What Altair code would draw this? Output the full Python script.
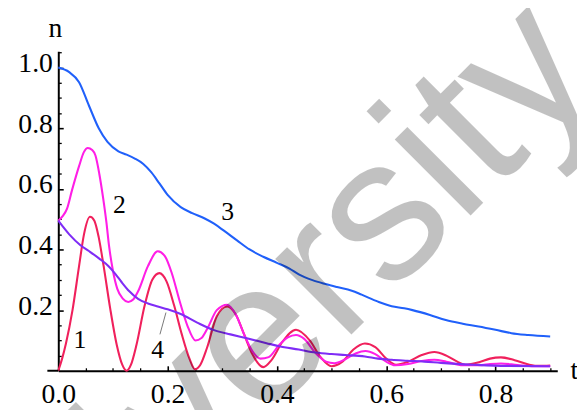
import altair as alt
import pandas as pd

# ---- data ----
T1 = [0, 0.007, 0.014, 0.026, 0.038, 0.047, 0.058, 0.066, 0.074, 0.083, 0.095, 0.107, 0.117, 0.125,
      0.133, 0.143, 0.158, 0.172, 0.185, 0.198, 0.212, 0.226, 0.24, 0.25, 0.26, 0.272, 0.29, 0.309,
      0.325, 0.34, 0.355, 0.375, 0.39, 0.41, 0.435, 0.46, 0.48, 0.5, 0.52, 0.54, 0.561, 0.58, 0.6,
      0.618, 0.64, 0.665, 0.688, 0.71, 0.73, 0.745, 0.77, 0.79, 0.81, 0.835, 0.862, 0.88, 0.9]
N1 = [0, 0.04, 0.09, 0.2, 0.345, 0.45, 0.508, 0.495, 0.44, 0.345, 0.205, 0.085, 0.02, 0.0,
      0.02, 0.085, 0.215, 0.3, 0.322, 0.295, 0.215, 0.12, 0.04, 0.005, 0.02, 0.075, 0.18, 0.212,
      0.185, 0.12, 0.055, 0.012, 0.035, 0.095, 0.135, 0.1, 0.045, 0.015, 0.03, 0.07, 0.09, 0.078, 0.04,
      0.02, 0.03, 0.052, 0.062, 0.05, 0.03, 0.02, 0.028, 0.04, 0.044, 0.035, 0.02, 0.016, 0.017]

T2 = [0, 0.008, 0.016, 0.025, 0.038, 0.047, 0.054, 0.062, 0.068, 0.075, 0.082, 0.088, 0.093, 0.1,
      0.108, 0.118, 0.128, 0.137, 0.146, 0.164, 0.182, 0.195, 0.208, 0.222, 0.236, 0.251, 0.262,
      0.273, 0.29, 0.309, 0.325, 0.34, 0.355, 0.37, 0.385, 0.404, 0.42, 0.435, 0.45, 0.47, 0.49,
      0.505, 0.525, 0.545, 0.562, 0.58, 0.6, 0.616, 0.64, 0.665, 0.688, 0.71, 0.74, 0.77, 0.79,
      0.81, 0.84, 0.87, 0.9]
N2 = [0.495, 0.51, 0.535, 0.595, 0.675, 0.722, 0.735, 0.728, 0.71, 0.65, 0.57, 0.49, 0.41, 0.33,
      0.27, 0.238, 0.227, 0.235, 0.262, 0.345, 0.394, 0.378, 0.32, 0.23, 0.15, 0.1, 0.108,
      0.14, 0.2, 0.218, 0.185, 0.12, 0.065, 0.04, 0.045, 0.085, 0.11, 0.118, 0.105, 0.06, 0.03,
      0.025, 0.038, 0.058, 0.065, 0.055, 0.03, 0.018, 0.022, 0.032, 0.036, 0.03, 0.018, 0.018, 0.022,
      0.024, 0.019, 0.015, 0.015]

T3 = [0, 0.02, 0.038, 0.056, 0.074, 0.09, 0.11, 0.125, 0.14, 0.155, 0.17, 0.185, 0.2, 0.224, 0.245,
      0.267, 0.285, 0.303, 0.327, 0.35, 0.375, 0.4, 0.423, 0.44, 0.465, 0.489, 0.51, 0.537, 0.555,
      0.585, 0.61, 0.633, 0.648, 0.68, 0.709, 0.74, 0.769, 0.8, 0.829, 0.86, 0.9]
N3 = [1.0, 0.985, 0.952, 0.875, 0.80, 0.755, 0.724, 0.713, 0.70, 0.683, 0.655, 0.618, 0.58, 0.54, 0.52,
      0.503, 0.485, 0.462, 0.43, 0.40, 0.376, 0.356, 0.337, 0.318, 0.299, 0.286, 0.276, 0.264, 0.251,
      0.228, 0.213, 0.206, 0.20, 0.184, 0.167, 0.155, 0.146, 0.135, 0.124, 0.118, 0.113]

T4 = [0, 0.02, 0.04, 0.056, 0.075, 0.092, 0.105, 0.116, 0.13, 0.146, 0.164, 0.182, 0.2, 0.224, 0.255,
      0.285, 0.315, 0.345, 0.381, 0.404, 0.44, 0.471, 0.5, 0.525, 0.561, 0.585, 0.61, 0.639, 0.67,
      0.7, 0.76, 0.82, 0.9]
N4 = [0.495, 0.45, 0.415, 0.395, 0.37, 0.345, 0.318, 0.292, 0.262, 0.237, 0.222, 0.212, 0.203, 0.187,
      0.158, 0.134, 0.12, 0.107, 0.091, 0.081, 0.07, 0.06, 0.055, 0.052, 0.047, 0.04, 0.036, 0.033,
      0.03, 0.026, 0.02, 0.016, 0.015]

COLORS = ["#f0205c", "#ff1ee6", "#2060fa", "#7f2cf6"]

X_MAJOR = [0.0, 0.2, 0.4, 0.6, 0.8]
X_MAJOR_TICKS = [0.2, 0.4, 0.6, 0.8]
X_MINOR = [0.05, 0.1, 0.15, 0.25, 0.3, 0.35, 0.45, 0.5, 0.55, 0.65, 0.7, 0.75, 0.85, 0.9]
Y_MAJOR = [0.2, 0.4, 0.6, 0.8, 1.0]
Y_MINOR = [0.05, 0.1, 0.15, 0.25, 0.3, 0.35, 0.45, 0.5, 0.55, 0.65, 0.7, 0.75, 0.85, 0.9, 0.95, 1.05]

LABEL_TEXT = ["1", "2", "3", "4"]
LABEL_T = [0.0397, 0.112, 0.31, 0.182]
LABEL_N = [0.101, 0.546, 0.524, 0.068]

AXIS_TEXT = ["n", "t"]
AXIS_T = [-0.0054, 0.937]
AXIS_N = [1.128, 0.0]

LEADER_T = [0.186, 0.197]
LEADER_N = [0.120, 0.192]

WATERMARK = "University"
WM_T = [0.423]
WM_N = [-0.085]

XS = alt.Scale(domain=[0, 0.913], nice=False, zero=False)
YS = alt.Scale(domain=[0, 1.054], nice=False, zero=False)
SERIF = "Liberation Serif"


def xe(axis=None):
    return alt.X("t:Q", scale=XS, axis=axis)


def ye(axis=None):
    return alt.Y("n:Q", scale=YS, axis=axis)


x_main = alt.Axis(values=X_MAJOR, format=".1f", ticks=False, domain=True, domainColor="black",
                  domainWidth=2, labelFont=SERIF, labelFontSize=28, labelColor="black",
                  labelPadding=10, grid=False, title=None, orient="bottom", labelFlush=False,
                  labelOverlap=False)
y_main = alt.Axis(values=Y_MAJOR, format=".1f", ticks=False, domain=True, domainColor="black",
                  domainWidth=2, labelFont=SERIF, labelFontSize=28, labelColor="black",
                  labelPadding=6, labelOffset=-4, grid=False, title=None, orient="left",
                  labelFlush=False, labelOverlap=False)
x_maj = alt.Axis(values=X_MAJOR_TICKS, ticks=True, tickSize=5, tickWidth=1.6, tickColor="black",
                 offset=-5, domain=False, labels=False, grid=False, title=None, orient="bottom")
y_maj = alt.Axis(values=Y_MAJOR, ticks=True, tickSize=5, tickWidth=1.6, tickColor="black",
                 offset=-5, domain=False, labels=False, grid=False, title=None, orient="left")
x_min = alt.Axis(values=X_MINOR, ticks=True, tickSize=3, tickWidth=1.3, tickColor="black",
                 offset=-3, domain=False, labels=False, grid=False, title=None, orient="bottom")
y_min = alt.Axis(values=Y_MINOR, ticks=True, tickSize=3, tickWidth=1.3, tickColor="black",
                 offset=-3, domain=False, labels=False, grid=False, title=None, orient="left")


def line(t, n, color, xa=None, ya=None):
    return alt.Chart(pd.DataFrame({"t": t, "n": n})).mark_line(
        color=color, strokeWidth=2.1, interpolate="monotone"
    ).encode(x=xe(xa), y=ye(ya))


l1 = line(T1, N1, COLORS[0], x_main, y_main)
l2 = line(T2, N2, COLORS[1], x_maj, y_maj)
l3 = line(T3, N3, COLORS[2], x_min, y_min)
l4 = line(T4, N4, COLORS[3])

stub = alt.Chart(pd.DataFrame({"t": [-0.02], "t2": [0.0], "n": [0.0]})).mark_rule(
    color="black", strokeWidth=2
).encode(x=xe(), x2="t2:Q", y=ye())

leader = alt.Chart(pd.DataFrame({"t": LEADER_T, "n": LEADER_N})).mark_line(
    color="#555555", strokeWidth=0.8
).encode(x=xe(), y=ye())

labels = alt.Chart(pd.DataFrame({"t": LABEL_T, "n": LABEL_N, "label": LABEL_TEXT})).mark_text(
    font=SERIF, fontSize=26, color="black", align="center", baseline="middle"
).encode(x=xe(), y=ye(), text="label:N")

n_title = alt.Chart(pd.DataFrame({"t": AXIS_T[:1], "n": AXIS_N[:1], "label": AXIS_TEXT[:1]})).mark_text(
    font=SERIF, fontSize=28, color="black", baseline="middle", align="center"
).encode(x=xe(), y=ye(), text="label:N")
t_title = alt.Chart(pd.DataFrame({"t": AXIS_T[1:], "n": AXIS_N[1:], "label": AXIS_TEXT[1:]})).mark_text(
    font=SERIF, fontSize=28, color="black", baseline="middle", align="left"
).encode(x=xe(), y=ye(), text="label:N")

watermark = alt.Chart(pd.DataFrame({"t": WM_T, "n": WM_N, "label": [WATERMARK]})).mark_text(
    font="Liberation Sans", fontSize=206, angle=315, align="center",
    baseline="alphabetic", color="black", opacity=0.24
).encode(x=xe(), y=ye(), text="label:N")

chart = alt.layer(
    l1, l2, l3, l4, stub, leader, labels, n_title, t_title, watermark
).resolve_axis(x="independent", y="independent").properties(
    width=506, height=324,
    padding={"left": 51, "top": 41, "right": 20, "bottom": 40},
    autosize=alt.AutoSizeParams(type="none"),
).configure_view(stroke=None)

chart.save("out.html", embed_options={"renderer": "svg", "actions": False})
